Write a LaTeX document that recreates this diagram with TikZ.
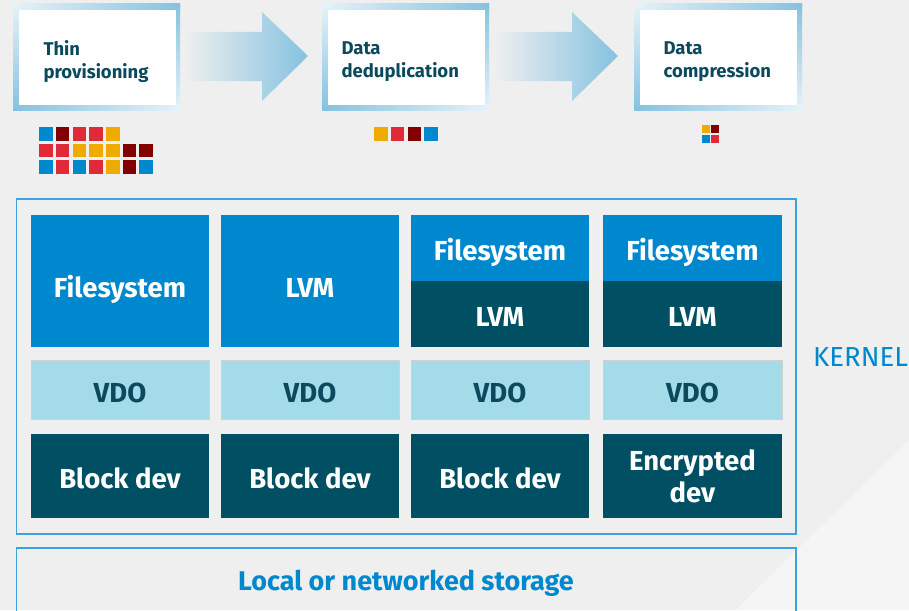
\documentclass[tikz,border=0pt]{standalone}
\usepackage{fontspec}
\setmainfont{Fira Sans}
\definecolor{bg}{HTML}{EFEFEF}
\definecolor{bglight}{HTML}{F5F5F5}
\definecolor{rhblue}{HTML}{0088CE}
\definecolor{rhteal}{HTML}{004F63}
\definecolor{rhvdo}{HTML}{A3DBE8}
\definecolor{rhtext}{HTML}{0B4A5E}
\definecolor{rhborder}{HTML}{3DA3DC}
\definecolor{frameblue}{HTML}{85C2E0}
\definecolor{framepale}{HTML}{E6F2F8}
\definecolor{sqblue}{HTML}{0088CE}
\definecolor{sqdred}{HTML}{820000}
\definecolor{sqred}{HTML}{E12A38}
\definecolor{sqyel}{HTML}{F0AB00}
\begin{document}
\begin{tikzpicture}[x=1pt,y=-1pt,
  cell/.style={anchor=north west,inner sep=0pt,outer sep=0pt,minimum width=178pt,align=center,
    font=\fontsize{27.5}{30}\selectfont\bfseries,text height=25pt,text depth=0pt},
  tall/.style={text height=33pt},
  fsbox/.style={cell,fill=rhblue,text=white},
  tealbox/.style={cell,fill=rhteal,text=white},
  vdobox/.style={cell,fill=rhvdo,text=rhtext,draw=black!18,line width=0.5pt},
  topbox/.style={anchor=north west,inner sep=0pt,minimum width=157pt,minimum height=95pt,fill=white},
  toplabel/.style={anchor=west,align=left,text=rhtext,font=\fontsize{18.5}{23}\selectfont\bfseries},
  sq/.style={minimum size=13.5pt,inner sep=0pt,anchor=north west},
  sqs/.style={minimum size=8pt,inner sep=0pt,anchor=north west},
]
\useasboundingbox (0,0) rectangle (909,610);
\clip (0,0) rectangle (909,610);
\fill[bg] (0,0) rectangle (909,610);
\fill[bglight] (909,447) -- (743,610) -- (909,610) -- cycle;
\fill[black!4] (909,440) -- (736,610) -- (743,610) -- (909,447) -- cycle;

% ---- top frames ----
\foreach \x/\w in {13/167, 322/167, 634/168}{
  \shade[left color=framepale,right color=frameblue] (\x,4) rectangle (\x+\w,9.5);
  \shade[top color=frameblue,bottom color=framepale] (\x+\w-5.5,4) rectangle (\x+\w,110);
  \shade[left color=frameblue,right color=framepale] (\x,104.5) rectangle (\x+\w,110);
  \shade[top color=framepale,bottom color=frameblue] (\x,4) rectangle (\x+5.5,110);
}
\node[topbox] (t1) at (18.5,9.5) {};
\node[topbox] (t2) at (327.5,9.5) {};
\node[topbox,minimum width=157pt] (t3) at (639.5,9.5) {};
\node[toplabel] (t1l) at (40,62) {Thin\\provisioning};
\node[toplabel] (t2l) at (338,62) {Data\\deduplication};
\node[toplabel] (t3l) at (660,62) {Data\\compression};

% ---- arrows ----
\shade[left color=bg,right color=frameblue]
  (184,32) -- (262,32) -- (262,12) -- (308,56) -- (262,101) -- (262,81) -- (184,81) -- cycle;
\shade[left color=bg,right color=frameblue]
  (494,32) -- (572,32) -- (572,12) -- (618,56) -- (572,101) -- (572,81) -- (494,81) -- cycle;

% ---- squares ----
\foreach \c [count=\i from 0] in {sqblue,sqdred,sqred,sqred,sqyel}
  \node[sq,fill=\c] (sa\i) at (39+16.7*\i,127) {};
\foreach \c [count=\i from 0] in {sqred,sqred,sqyel,sqyel,sqyel,sqdred,sqdred}
  \node[sq,fill=\c] (sb\i) at (39+16.7*\i,143.5) {};
\foreach \c [count=\i from 0] in {sqblue,sqred,sqblue,sqred,sqyel,sqdred,sqblue}
  \node[sq,fill=\c] (sc\i) at (39+16.7*\i,160) {};
\foreach \c [count=\i from 0] in {sqyel,sqred,sqdred,sqblue}
  \node[sq,fill=\c] (sd\i) at (374+16.7*\i,127) {};
\node[sqs,fill=sqyel] (se1) at (702,125) {};
\node[sqs,fill=sqdred] (se2) at (711,125) {};
\node[sqs,fill=sqblue] (se3) at (702,134.5) {};
\node[sqs,fill=sqred] (se4) at (711,134.5) {};

% ---- kernel ----
\draw[rhborder,line width=1.3pt] (16.5,199) rectangle (796,534);
\node[anchor=west,inner sep=0pt,text=rhblue,font=\fontsize{27.5}{30}\selectfont,text height=19pt,text depth=0pt] (kern) at (813,357) {KERNEL};

\node[fsbox,tall,minimum height=132pt] (fs1) at (31,215) {Filesystem};
\node[fsbox,tall,minimum height=132pt] (lvm2) at (221,215) {LVM};
\node[fsbox,minimum height=66pt] (fs3) at (411,215) {Filesystem};
\node[tealbox,minimum height=66pt] (lvm3) at (411,281) {LVM};
\node[fsbox,minimum height=66pt,minimum width=179pt] (fs4) at (603,215) {Filesystem};
\node[tealbox,minimum height=66pt,minimum width=179pt] (lvm4) at (603,281) {LVM};

\node[vdobox,minimum height=59pt] (v1) at (31,360) {VDO};
\node[vdobox,minimum height=59pt] (v2) at (221,360) {VDO};
\node[vdobox,minimum height=59pt] (v3) at (411,360) {VDO};
\node[vdobox,minimum height=59pt,minimum width=179pt] (v4) at (603,360) {VDO};

\node[tealbox,minimum height=84pt] (b1) at (31,434) {Block dev};
\node[tealbox,minimum height=84pt] (b2) at (221,434) {Block dev};
\node[tealbox,minimum height=84pt] (b3) at (411,434) {Block dev};
\node[tealbox,minimum height=84pt,minimum width=179pt,text height=,text depth=,
  font=\fontsize{27.5}{32}\selectfont\bfseries] (b4) at (603,434) {Encrypted\\dev};

% ---- storage ----
\draw[rhborder,line width=1.3pt] (16.5,548) rectangle (796,640);
\node[text=rhblue,inner sep=0pt,font=\fontsize{27}{30}\selectfont\bfseries,text height=18.6pt,text depth=0pt] (stor) at (406,581) {Local or networked storage};
\end{tikzpicture}
\end{document}
